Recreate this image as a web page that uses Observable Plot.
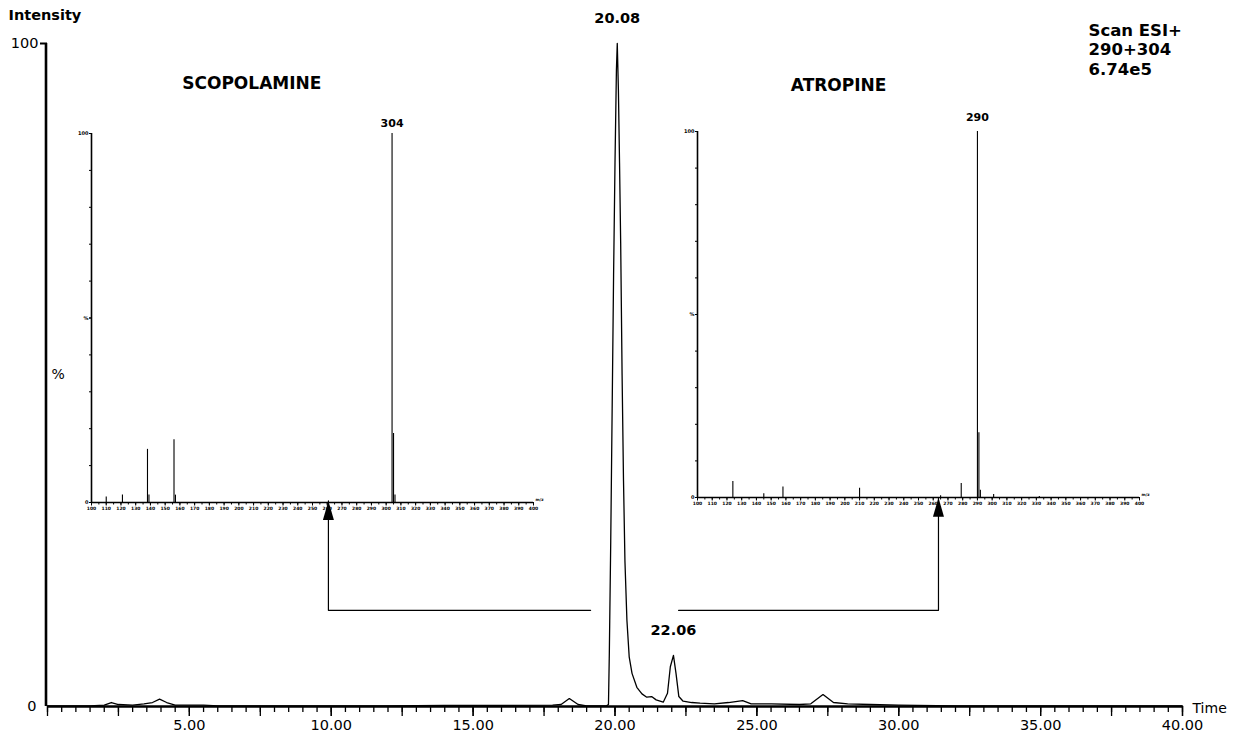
<!DOCTYPE html>
<html><head><meta charset="utf-8">
<script src="https://cdn.jsdelivr.net/npm/d3@7"></script>
<script src="https://cdn.jsdelivr.net/npm/@observablehq/plot@0.6"></script>
<style>
html,body{margin:0;padding:0;background:#fff;}
#chart{position:relative;width:1244px;height:739px;overflow:hidden;}
#chart > div.inset{position:absolute;}
</style></head><body><div id="chart"></div>
<script>
// ---- Chromatogram: retention time (min) vs relative intensity (%)
const chromTime = [0, 1.5, 2.0, 2.25, 2.5, 3.0, 3.4, 3.7, 3.95, 4.2, 4.5, 5.5, 6, 8, 10, 12, 14, 16, 17.8, 18.1, 18.39, 18.7, 19.0, 19.7,
  19.77, 19.8, 19.85, 19.9, 19.95, 20.0, 20.05, 20.08, 20.12, 20.16, 20.2, 20.25, 20.3, 20.35, 20.42, 20.5, 20.6, 20.77, 20.95,
  21.12, 21.29, 21.45, 21.7, 21.85, 21.95, 22.06, 22.15, 22.25, 22.4, 22.7, 23.0, 23.5, 24.0, 24.5, 24.8, 25.5, 26.5, 26.9,
  27.33, 27.7, 28.2, 29, 30, 32, 36, 40];
const chromIntensity = [0.1, 0.1, 0.2, 0.6, 0.3, 0.2, 0.4, 0.6, 1.1, 0.6, 0.2, 0.2, 0.1, 0.1, 0.1, 0.1, 0.15, 0.15, 0.2, 0.3, 1.2, 0.3, 0.1, 0.1,
  0.3, 8, 25, 45, 65, 82, 96, 100, 93, 82, 70, 50, 34, 22, 13, 7.5, 5, 2.9, 1.9,
  1.4, 1.5, 1.0, 0.65, 2, 6, 7.7, 5, 1.5, 0.8, 0.6, 0.5, 0.4, 0.6, 0.9, 0.4, 0.4, 0.3, 0.4,
  1.8, 0.6, 0.4, 0.3, 0.2, 0.1, 0.1, 0.1];
const peakTimes = [20.08, 22.06];
const peakHeights = [100, 7.7];
const peakLabels = ["20.08", "22.06"];
const xTickLabels = [5, 10, 15, 20, 25, 30, 35, 40];

// ---- Mass spectra (m/z vs relative abundance %)
const scopMz = [110, 121, 138, 139, 156, 157, 304, 305, 306];
const scopInt = [1.5, 2.0, 14.4, 2.0, 17.0, 2.0, 100, 18.7, 2.0];
const atroMz = [124, 145, 158, 210, 265, 279, 290, 291, 292, 301, 332];
const atroInt = [4.4, 1.0, 2.9, 2.5, 0.5, 3.8, 100, 17.7, 2.0, 0.8, 0.3];
const compoundNames = ["SCOPOLAMINE", "ATROPINE"];
const compoundLabelT = [7.2, 27.88];
const compoundLabelP = [93.97, 93.67];

// ---- Arrows from peak region to spectra (time, %)
const arrowLeftT = [19.14, 9.90, 9.90];
const arrowLeftP = [14.5, 14.5, 31.0];
const arrowRightT = [22.24, 31.40, 31.40];
const arrowRightP = [14.5, 14.5, 31.5];

const infoText = "Scan ESI+\n290+304\n6.74e5";

const FONT = "DejaVu Sans, Verdana, sans-serif";
const chrom = chromTime.map((t, i) => ({t, p: chromIntensity[i]}));
const peaks = peakTimes.map((t, i) => ({t, p: peakHeights[i], label: peakLabels[i]}));
const arrowL = arrowLeftT.map((t, i) => ({t, p: arrowLeftP[i]}));
const arrowR = arrowRightT.map((t, i) => ({t, p: arrowRightP[i]}));
const tips = [arrowL[2], arrowR[2]];
const names = compoundNames.map((n, i) => ({n, t: compoundLabelT[i], p: compoundLabelP[i]}));

const arrowHead = {draw(ctx, size) { ctx.moveTo(0, 0); ctx.lineTo(-5.5, 19); ctx.lineTo(5.5, 19); ctx.closePath(); }};

const main = Plot.plot({
  width: 1244, height: 739,
  marginLeft: 47, marginRight: 62, marginTop: 43, marginBottom: 33,
  x: {domain: [0, 40], label: null}, y: {domain: [0, 100], label: null},
  style: {background: "#fff", fontFamily: FONT, fontSize: "14px", color: "#000", overflow: "visible"},
  marks: [
    Plot.axisX({ticks: d3.range(0, 40.001, 0.5), tickSize: 6, tickFormat: () => "", strokeWidth: 1.3, label: null}),
    Plot.axisX({ticks: d3.range(0, 40.001, 2.5), tickSize: 10, tickFormat: () => "", strokeWidth: 1.3, label: null}),
    Plot.axisX({ticks: xTickLabels, tickSize: 10, tickPadding: 3, tickFormat: d3.format(".2f"), fontSize: 14.5, strokeWidth: 1.3, label: null}),
    Plot.axisY({ticks: [100], tickSize: 7, tickPadding: 2, fontSize: 14.5, strokeWidth: 2, label: null}),
    Plot.axisY({ticks: [0], tickSize: 0, tickPadding: 11, fontSize: 14.5, label: null}),
    Plot.text(["%"], {frameAnchor: "left", dx: 4, fontSize: 14}),
    Plot.text(["Time"], {frameAnchor: "bottom-right", textAnchor: "start", lineAnchor: "middle", dx: 10, dy: 2, fontSize: 14}),
    Plot.text(["Intensity"], {frameAnchor: "top-left", textAnchor: "start", lineAnchor: "middle", dx: -39, dy: -28, fontSize: 14.5, fontWeight: "bold"}),
    Plot.text([infoText], {frameAnchor: "top-right", textAnchor: "start", lineAnchor: "top", dx: -94, dy: -22, lineHeight: 1.2, fontSize: 16.5, fontWeight: "bold"}),
    Plot.ruleY([0], {strokeWidth: 2.6}),
    Plot.ruleX([0], {strokeWidth: 2.6, dx: -1.5}),
    Plot.line(chrom, {x: "t", y: "p", stroke: "#000", strokeWidth: 1.3}),
    Plot.text(peaks, {x: "t", y: "p", text: "label", dy: -25, fontSize: 14.5, fontWeight: "bold"}),
    Plot.line(arrowL, {x: "t", y: "p", stroke: "#000", strokeWidth: 1.2}),
    Plot.line(arrowR, {x: "t", y: "p", stroke: "#000", strokeWidth: 1.2}),
    Plot.dot(tips, {x: "t", y: "p", symbol: arrowHead, fill: "#000", stroke: "none", r: 6}),
    Plot.text(names, {x: "t", y: "p", text: "n", fontSize: 17, fontWeight: "bold"})
  ]
});

function inset(mz, inten, innerH, labelDy) {
  const data = mz.map((m, i) => ({mz: m, i: inten[i]}));
  const base = data.filter(d => d.i === 100);
  return Plot.plot({
    width: 482, height: 30 + innerH + 20,
    marginLeft: 20, marginRight: 20, marginTop: 30, marginBottom: 20,
    x: {domain: [100, 400], label: null}, y: {domain: [0, 100], label: null},
    style: {background: "transparent", fontFamily: FONT, color: "#000", overflow: "visible"},
    marks: [
      Plot.axisX({ticks: d3.range(100, 400.1, 5), tickSize: 2.5, tickFormat: () => "", strokeWidth: 1, label: null}),
      Plot.axisX({ticks: d3.range(100, 400.1, 10), tickSize: 3.5, tickPadding: 1, fontSize: 4.5, fontWeight: "bold", strokeWidth: 1, label: null}),
      Plot.axisY({ticks: d3.range(0, 100.1, 10), tickSize: 2, tickFormat: () => "", strokeWidth: 1, label: null}),
      Plot.axisY({ticks: [0, 50, 100], tickSize: 2, tickPadding: 1, tickFormat: d => d === 50 ? "%" : String(d), fontSize: 5, fontWeight: "bold", label: null}),
      Plot.text(["m/z"], {frameAnchor: "bottom-right", textAnchor: "start", dx: 2, dy: -2, fontSize: 4, fontWeight: "bold"}),
      Plot.ruleY([0], {strokeWidth: 1.5}),
      Plot.ruleX([100], {strokeWidth: 1.6}),
      Plot.ruleX(data, {x: "mz", y1: 0, y2: "i", stroke: "#000", strokeWidth: 1.1}),
      Plot.text(base, {x: "mz", y: "i", text: d => String(d.mz), dy: labelDy, fontSize: 11, fontWeight: "bold"})
    ]
  });
}

const chart = document.getElementById("chart");
chart.append(main);
const ins1 = document.createElement("div"); ins1.className = "inset";
ins1.style.left = "70.7px"; ins1.style.top = "103px";
ins1.append(inset(scopMz, scopInt, 369, -10));
const ins2 = document.createElement("div"); ins2.className = "inset";
ins2.style.left = "676.7px"; ins2.style.top = "100.7px";
ins2.append(inset(atroMz, atroInt, 366, -14));
chart.append(ins1, ins2);
</script></body></html>
